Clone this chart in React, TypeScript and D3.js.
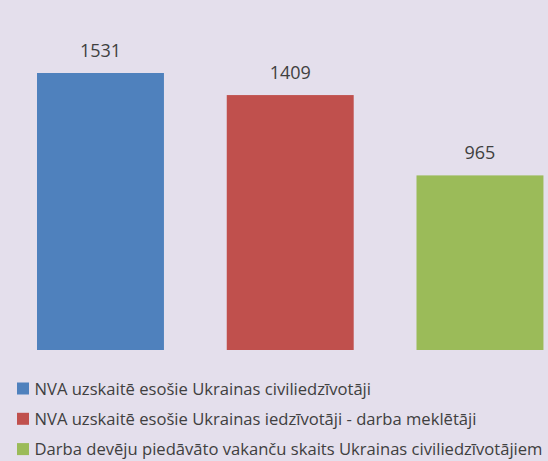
import React from 'react';
import * as d3 from 'd3';

const categories = [
  'NVA uzskaitē esošie Ukrainas civiliedzīvotāji',
  'NVA uzskaitē esošie Ukrainas iedzīvotāji - darba meklētāji',
  'Darba devēju piedāvāto vakanču skaits Ukrainas civiliedzīvotājiem',
];
const values = [1531, 1409, 965];
const colors = ['#4f81bd', '#c0504d', '#9bbb59'];

const W = 548;
const H = 461;
const FONT = '"Open Sans", "Noto Sans", sans-serif';

const App = () => {
  // bars sit on a zero baseline at y=350
  const y = d3.scaleLinear().domain([0, 1531]).range([350, 73]);
  const x = d3
    .scaleBand<string>()
    .domain(categories)
    .range([5.6, 574.85])
    .paddingInner(0.331)
    .paddingOuter(0.1655);

  return (
    <svg width={W} height={H} style={{ position: 'absolute', left: 0, top: 0, display: 'block' }}>
      <rect width={W} height={H} fill="#e4dfec" />
      {categories.map((c, i) => (
        <g key={c}>
          <rect
            x={x(c)}
            y={y(values[i])}
            width={x.bandwidth()}
            height={y(0) - y(values[i])}
            fill={colors[i]}
          />
          <text
            x={(x(c) as number) + x.bandwidth() / 2}
            y={y(values[i]) - 16}
            textAnchor="middle"
            fontFamily={FONT}
            fontSize={18}
            fill="#404040"
          >
            {values[i]}
          </text>
        </g>
      ))}
      {categories.map((c, i) => (
        <g key={'lg' + i} transform={`translate(0, ${394.5 + i * 30.3})`}>
          <rect x={17} y={-12} width={12} height={12} fill={colors[i]} />
          <text x={34.5} y={0} fontFamily={FONT} fontSize={16.6} fill="#404040">
            {c}
          </text>
        </g>
      ))}
    </svg>
  );
};

export default App;
